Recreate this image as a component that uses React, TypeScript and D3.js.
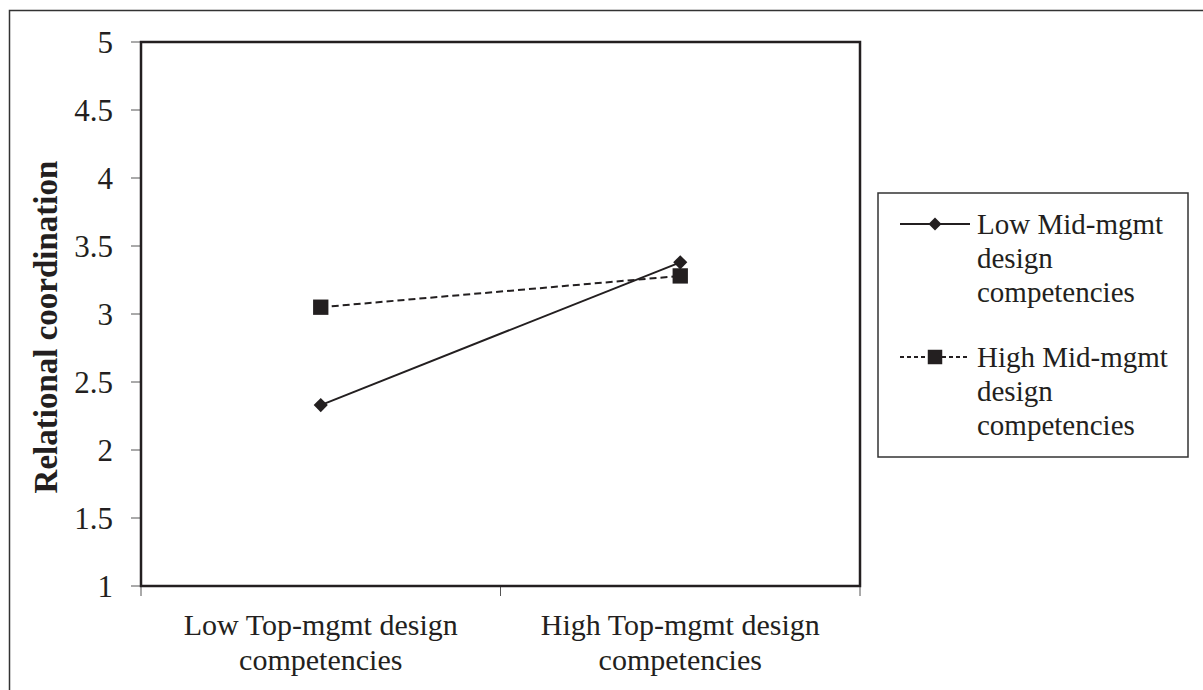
import { scaleBand, scaleLinear, line, symbol, symbolSquare } from 'd3'

const categories = ['Low Top-mgmt design competencies', 'High Top-mgmt design competencies']
const categoryLines = [
  ['Low Top-mgmt design', 'competencies'],
  ['High Top-mgmt design', 'competencies'],
]
const lowMid = [2.33, 3.38]
const highMid = [3.05, 3.28]
const yTicks = [1, 1.5, 2, 2.5, 3, 3.5, 4, 4.5, 5]
const seriesNames = [
  ['Low Mid-mgmt', 'design', 'competencies'],
  ['High Mid-mgmt', 'design', 'competencies'],
]

const W = 1203
const H = 690
const margin = { left: 141, right: 860, top: 42, bottom: 586 }
const ink = '#231f20'
const fontName = 'Liberation Serif'

export default function App() {
  const x = scaleBand<string>().domain(categories).range([margin.left, margin.right])
  const y = scaleLinear().domain([1, 5]).range([margin.bottom, margin.top])
  const cx = (i: number) => (x(categories[i]) ?? 0) + x.bandwidth() / 2

  const path = line<number>()
    .x((_, i) => cx(i))
    .y((d) => y(d))

  // diamonds are squares turned 45 degrees
  const diamond = symbol().type(symbolSquare).size(100)()
  const square = symbol().type(symbolSquare).size(235)()
  const diamondSmall = symbol().type(symbolSquare).size(85)()
  const squareSmall = symbol().type(symbolSquare).size(210)()

  const xEdges = [...categories.map((c) => x(c) ?? 0), margin.right]

  const legendX = 878
  const legendY = 193
  const series = [
    { values: lowMid, dash: undefined, legendDash: undefined, marker: diamond, small: diamondSmall, rot: 45 },
    { values: highMid, dash: '7 4', legendDash: '4 3', marker: square, small: squareSmall, rot: 0 },
  ]

  return (
    <svg width={W} height={H} style={{ position: 'absolute', left: 0, top: 0 }}>
      {/* outer frame, cut off by the page */}
      <rect x={9.5} y={10.5} width={1220} height={720} fill="none" stroke="#333" strokeWidth={1.5} />

      {yTicks.map((t) => (
        <g key={t}>
          <line x1={131} x2={margin.left} y1={y(t)} y2={y(t)} stroke="#555" strokeWidth={1} />
          <text x={113} y={y(t) + 11} textAnchor="end" fontFamily={`'${fontName}', monospace`} fontSize={31} fill={ink}>
            {t}
          </text>
        </g>
      ))}

      {xEdges.map((e, i) => (
        <line key={i} x1={e} x2={e} y1={margin.bottom} y2={margin.bottom + 10} stroke="#555" strokeWidth={1} />
      ))}

      <rect
        x={margin.left}
        y={margin.top}
        width={margin.right - margin.left}
        height={margin.bottom - margin.top}
        fill="none"
        stroke={ink}
        strokeWidth={2.5}
      />

      {categoryLines.map((lines, i) =>
        lines.map((s, j) => (
          <text
            key={`${i}-${j}`}
            x={cx(i)}
            y={635 + j * 35}
            textAnchor="middle"
            fontFamily={`'${fontName}', monospace`}
            fontSize={30}
            fill={ink}
          >
            {s}
          </text>
        ))
      )}

      <text
        transform={`translate(57, 327) rotate(-90)`}
        textAnchor="middle"
        fontFamily={`'${fontName}', monospace`}
        fontSize={33}
        fontWeight="bold"
        fill={ink}
      >
        Relational coordination
      </text>

      {series.map((s, k) => (
        <g key={k}>
          <path d={path(s.values) ?? ''} fill="none" stroke={ink} strokeWidth={2} strokeDasharray={s.dash} />
          {s.values.map((v, i) => (
            <path key={i} d={s.marker ?? ''} transform={`translate(${cx(i)}, ${y(v)}) rotate(${s.rot})`} fill={ink} />
          ))}
        </g>
      ))}

      {/* legend */}
      <rect x={legendX} y={legendY} width={310} height={264} fill="none" stroke="#333" strokeWidth={1.5} />
      {series.map((s, k) => {
        const ly = 224 + k * 133
        return (
          <g key={k}>
            <line x1={900} x2={970} y1={ly} y2={ly} stroke={ink} strokeWidth={2} strokeDasharray={s.legendDash} />
            <path d={s.small ?? ''} transform={`translate(935, ${ly}) rotate(${s.rot})`} fill={ink} />
            {seriesNames[k].map((t, j) => (
              <text key={j} x={977} y={ly + 10 + j * 34} fontFamily={`'${fontName}', monospace`} fontSize={29} fill={ink}>
                {t}
              </text>
            ))}
          </g>
        )
      })}
    </svg>
  )
}
